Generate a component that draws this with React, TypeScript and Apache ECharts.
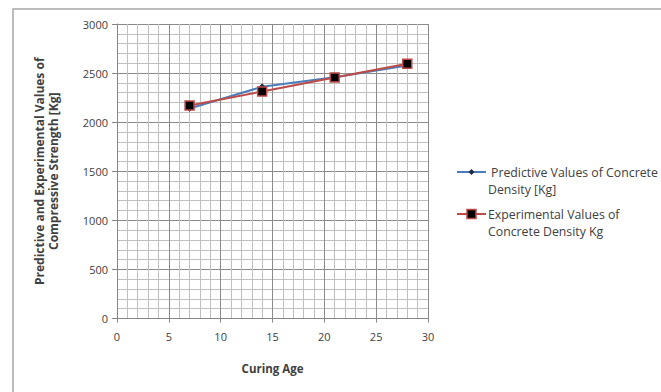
import React, { useEffect, useRef } from "react";
import * as echarts from "echarts";

const curingAge = [7, 14, 21, 28];
const predictive = [2140, 2360, 2458, 2578];
const experimental = [2170, 2312, 2456, 2595];
const seriesNames = ["Predictive Values of Concrete Density [Kg]", "Experimental Values of Concrete Density Kg"];
const legendLines = [
  ["Predictive Values of Concrete", "Density [Kg]"],
  ["Experimental Values of", "Concrete Density Kg"],
];
const xTitle = "Curing Age";
const yTitle = "Predictive and Experimental Values of\nCompressive Strength [Kg]";

const FONT = "'Open Sans', sans-serif";

export default function App() {
  const ref = useRef<HTMLDivElement>(null);
  useEffect(() => {
    document.body.style.margin = "0";
    const chart = echarts.init(ref.current!, null, { renderer: "svg" });
    const blue = "#4a7ebb";
    const red = "#be4b48";
    const textColor = "#404040";
    chart.setOption({
      animation: false,
      backgroundColor: "#ffffff",
      textStyle: { fontFamily: FONT },
      grid: { left: 117, top: 24, right: 233, bottom: 73.5, containLabel: false },
      xAxis: {
        type: "value",
        min: 0,
        max: 30,
        interval: 5,
        name: xTitle,
        nameLocation: "middle",
        nameGap: 44,
        nameTextStyle: { fontFamily: FONT, fontWeight: "bold", fontSize: 11.5, color: textColor },
        axisLine: { show: true, onZero: false, lineStyle: { color: "#868686", width: 1 } },
        axisTick: { show: true, length: 4, lineStyle: { color: "#868686" } },
        axisLabel: { fontFamily: FONT, fontSize: 11, color: textColor, margin: 12, formatter: (v: number) => String(v) },
        splitLine: { show: true, lineStyle: { color: "#8a8a8a", width: 1 } },
        minorTick: { show: false, splitNumber: 5 },
        minorSplitLine: { show: true, lineStyle: { color: "#c0c0c0", width: 1 } },
      },
      yAxis: {
        type: "value",
        min: 0,
        max: 3000,
        interval: 500,
        name: yTitle,
        nameLocation: "middle",
        nameRotate: 90,
        nameGap: 57,
        nameTextStyle: { fontFamily: FONT, fontWeight: "bold", fontSize: 12, color: textColor, lineHeight: 14 },
        axisLine: { show: true, lineStyle: { color: "#868686", width: 1 } },
        axisTick: { show: true, length: 5, lineStyle: { color: "#868686" } },
        axisLabel: { fontFamily: FONT, fontSize: 11, color: textColor, margin: 9, formatter: (v: number) => String(v) },
        splitLine: { show: true, lineStyle: { color: "#8a8a8a", width: 1 } },
        minorTick: { show: false, splitNumber: 5 },
        minorSplitLine: { show: true, lineStyle: { color: "#c0c0c0", width: 1 } },
      },
      series: [
        {
          name: seriesNames[0],
          type: "line",
          data: curingAge.map((x, i) => [x, predictive[i]]),
          lineStyle: { color: blue, width: 2 },
          itemStyle: { color: "#1f2a44", borderColor: "#1f2a44" },
          symbol: "diamond",
          symbolSize: 6,
          z: 2,
        },
        {
          name: seriesNames[1],
          type: "line",
          data: curingAge.map((x, i) => [x, experimental[i]]),
          lineStyle: { color: red, width: 2 },
          itemStyle: { color: "#000000", borderColor: red, borderWidth: 1.5 },
          symbol: "rect",
          symbolSize: 9,
          z: 3,
        },
      ],
      graphic: [
        {
          type: "rect",
          shape: { x: 13, y: 9, width: 700, height: 450 },
          style: { fill: "none", stroke: "#a6a6a6", lineWidth: 1.5 },
          silent: true,
          z: -10,
        },
        { type: "line", shape: { x1: 457, y1: 172, x2: 486, y2: 172 }, style: { stroke: blue, lineWidth: 2 } },
        { type: "polygon", shape: { points: [[471.5, 169], [474.5, 172], [471.5, 175], [468.5, 172]] }, style: { fill: "#1f2a44" } },
        { type: "text", x: 491, y: 172, style: { text: legendLines[0][0], font: `12.3px ${FONT}`, fill: textColor, verticalAlign: "middle" } },
        { type: "text", x: 488, y: 189, style: { text: legendLines[0][1], font: `12.3px ${FONT}`, fill: textColor, verticalAlign: "middle" } },
        { type: "line", shape: { x1: 457, y1: 214, x2: 486, y2: 214 }, style: { stroke: red, lineWidth: 2 } },
        { type: "rect", shape: { x: 467, y: 209.5, width: 9, height: 9 }, style: { fill: "#000", stroke: red, lineWidth: 1.5 } },
        { type: "text", x: 488, y: 214, style: { text: legendLines[1][0], font: `12.3px ${FONT}`, fill: textColor, verticalAlign: "middle" } },
        { type: "text", x: 488, y: 231, style: { text: legendLines[1][1], font: `12.3px ${FONT}`, fill: textColor, verticalAlign: "middle" } },
      ],
    });
    return () => chart.dispose();
  }, []);
  return <div ref={ref} style={{ width: 661, height: 392 }} />;
}
